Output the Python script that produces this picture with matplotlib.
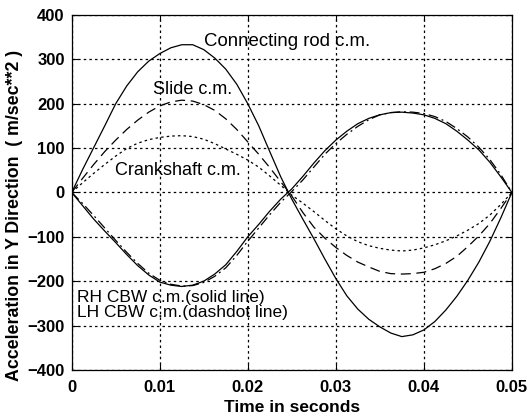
import matplotlib
matplotlib.use("Agg")
import matplotlib.pyplot as plt

plt.rcParams['font.family'] = ['Liberation Sans', 'DejaVu Sans']

# time samples (s)
time_s = [0, .00125, .0025, .00375, .005, .00625, .0075, .00875, .01, .01125,
          .0125, .01375, .015, .01625, .0175, .01875, .02, .02125, .0225, .02375,
          .025, .02625, .0275, .02875, .03, .03125, .0325, .03375, .035, .03625,
          .0375, .03875, .04, .04125, .0425, .04375, .045, .04625, .0475, .04875,
          .05]

# y acceleration of each centre of mass (m/s^2)
conrod_acc = [0, 52, 101, 150, 200, 240, 272, 296, 313, 326,
              333, 333, 322, 303, 278, 244, 200, 150, 92, 35,
              -15, -60, -104, -150, -194, -233, -263, -286, -303, -317,
              -325, -321, -310, -291, -265, -234, -198, -157, -110, -57,
              0]
slide_acc = [0, 32, 63, 92, 118, 142, 163, 181, 195, 204,
             208, 206, 198, 185, 166, 142, 114, 86, 56, 24,
             -8, -45, -78, -103, -124, -142, -157, -168, -178, -183,
             -184, -183, -180, -172, -160, -144, -122, -98, -70, -36,
             0]
crank_acc = [0, 22, 43, 63, 82, 99, 111, 119, 124, 127,
             128, 126, 120, 110, 98, 86, 73, 57, 37, 16,
             -6, -24, -43, -63, -82, -98, -111, -120, -126, -130,
             -132, -130, -125, -118, -109, -98, -85, -70, -51, -27,
             0]
rh_cbw_acc = [0, -30, -60, -87, -113, -140, -165, -186, -202, -209,
              -212, -209, -200, -184, -163, -133, -100, -72, -42, -15,
              8, 36, 66, 94, 118, 138, 155, 167, 175, 180,
              181, 179, 175, 167, 155, 138, 118, 96, 68, 35,
              0]
lh_cbw_acc = [0, -25, -52, -80, -108, -135, -160, -182, -198, -207,
              -211, -210, -203, -189, -170, -142, -110, -80, -50, -22,
              2, 28, 57, 86, 110, 131, 149, 164, 175, 180,
              182, 181, 178, 171, 160, 144, 125, 102, 74, 40,
              0]

xticks = [0, 0.01, 0.02, 0.03, 0.04, 0.05]
xtick_labels = ['0', '0.01', '0.02', '0.03', '0.04', '0.05']
yticks = [-400, -300, -200, -100, 0, 100, 200, 300, 400]

fig = plt.figure(figsize=(5.31, 4.17), dpi=100)
ax = fig.add_axes([0.135, 0.113, 0.829, 0.851])

lw = 0.9
ax.plot(time_s, conrod_acc, color='black', lw=lw, ls='-')
ax.plot(time_s, slide_acc, color='black', lw=lw, ls=(0, (8, 4.5)))
ax.plot(time_s, crank_acc, color='black', lw=lw, ls=(0, (2, 2.5)))
ax.plot(time_s, rh_cbw_acc, color='black', lw=lw, ls='-')
ax.plot(time_s, lh_cbw_acc, color='black', lw=lw, ls=(0, (8, 3, 1.5, 3)))

ax.set_xlim(0, 0.05)
ax.set_ylim(-400, 400)
ax.set_xticks(xticks)
ax.set_xticklabels(xtick_labels)
ax.set_yticks(yticks)
ax.grid(True, color='black', ls=(0, (2, 2.5)), lw=0.9)
ax.tick_params(direction='in', length=4, top=True, right=True, labelsize=12)
ax.tick_params(axis='x', pad=7)
ax.tick_params(axis='y', pad=5)
for lbl in ax.get_xticklabels() + ax.get_yticklabels():
    lbl.set_fontweight('bold')
for s in ax.spines.values():
    s.set_linewidth(0.9)

ax.set_xlabel('Time in seconds', fontsize=12.5, fontweight='bold')
ax.xaxis.set_label_coords(0.5, -0.085)
ax.set_ylabel('Acceleration in Y Direction  ( m/sec**2 )', fontsize=12.8,
              fontweight='bold')
ax.yaxis.set_label_coords(-0.11, 0.435)

ax.text(0.0150, 340, 'Connecting rod c.m.', fontsize=13.4, va='center')
ax.text(0.0092, 232, 'Slide c.m.', fontsize=13, va='center')
ax.text(0.0049, 49, 'Crankshaft c.m.', fontsize=13, va='center')
ax.text(0.0006, -236, 'RH CBW c.m.(solid line)', fontsize=12.5, va='center')
ax.text(0.0006, -270, 'LH CBW c.m.(dashdot line)', fontsize=12.5, va='center')

fig.savefig('out.png', dpi=100)
